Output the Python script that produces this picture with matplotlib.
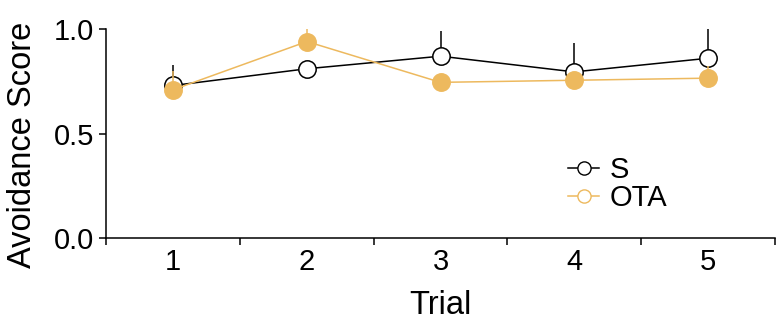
import matplotlib
matplotlib.use("Agg")
import matplotlib.pyplot as plt
from matplotlib.lines import Line2D

# data
trials = [1, 2, 3, 4, 5]
s_mean = [0.73, 0.81, 0.87, 0.795, 0.86]
s_err = [0.10, 0.0, 0.12, 0.14, 0.15]
ota_mean = [0.71, 0.94, 0.745, 0.755, 0.765]
ota_err = [0.09, 0.08, 0.0, 0.0, 0.06]
series_labels = ["S", "OTA"]

ORANGE = "#EDB95E"

plt.rcParams["font.family"] = ["Liberation Sans", "DejaVu Sans"]

fig, ax = plt.subplots(figsize=(7.77, 3.22), dpi=100)
fig.subplots_adjust(left=0.137, right=0.997, bottom=0.26, top=0.91)

ax.errorbar(trials, s_mean, yerr=[[0] * 5, s_err], color="black", lw=1.1,
            marker="o", ms=12.5, mfc="white", mec="black", mew=1.1,
            capsize=0, elinewidth=1.1, zorder=3)
ax.errorbar(trials, ota_mean, yerr=[[0] * 5, ota_err], color=ORANGE, lw=1.1,
            marker="o", ms=12.5, mfc=ORANGE, mec=ORANGE, mew=1.1,
            capsize=0, elinewidth=1.1, zorder=4)

ax.set_xlim(0.5, 5.5)
ax.set_ylim(0, 1.0)
ax.set_yticks([0, 0.5, 1.0])
ax.set_yticklabels(["0.0", "0.5", "1.0"])
# ticks sit between trials, labels sit on them
ax.set_xticks([0.5, 1.5, 2.5, 3.5, 4.5, 5.5])
ax.set_xticklabels([])
ax.set_xticks(trials, minor=True)
ax.set_xticklabels([str(t) for t in trials], minor=True)
ax.tick_params(axis="x", which="minor", length=0, pad=7, labelsize=21)
ax.tick_params(axis="x", which="major", length=5, width=1.1)
ax.tick_params(axis="y", length=5, width=1.1, labelsize=21, pad=4)

for side in ["top", "right"]:
    ax.spines[side].set_visible(False)
for side in ["left", "bottom"]:
    ax.spines[side].set_linewidth(1.1)

ax.set_xlabel("Trial", fontsize=23.5, labelpad=10)
ax.set_ylabel("Avoidance Score", fontsize=23.5)
ax.yaxis.set_label_coords(-0.102, 0.445)

h = [Line2D([], [], color="black", lw=1.1, marker="o", ms=9.5, mfc="white",
            mec="black"),
     Line2D([], [], color=ORANGE, lw=1.1, marker="o", ms=9.5, mfc="white",
            mec=ORANGE)]
ax.legend(h, series_labels, loc="upper left", bbox_to_anchor=(0.674, 0.45),
          frameon=False, fontsize=21, handlelength=1.05, handletextpad=0.35,
          labelspacing=0.0, borderaxespad=0)

fig.savefig("out.png", dpi=100)
